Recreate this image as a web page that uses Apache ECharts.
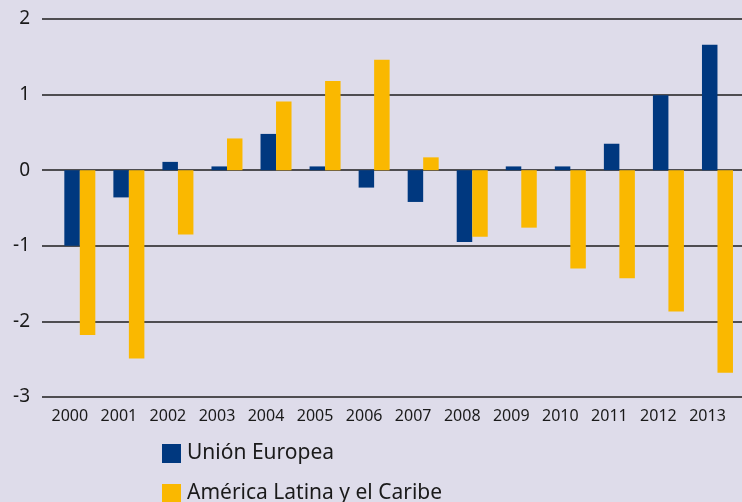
<!DOCTYPE html>
<html>
<head>
    <meta charset="utf-8">
    <title>Unión Europea / América Latina y el Caribe</title>
    <script src="https://cdn.jsdelivr.net/npm/echarts@6/dist/echarts.min.js"></script>
    <style>
        html, body { margin: 0; padding: 0; background: #dedcea; }
    </style>
</head>
<body>
    <div id="main" style="width: 742px;height:502px;"></div>
    <script>
        var years = ['2000', '2001', '2002', '2003', '2004', '2005', '2006', '2007', '2008', '2009', '2010', '2011', '2012', '2013'];
        var ue = [-1.0, -0.36, 0.11, 0.05, 0.48, 0.05, -0.23, -0.42, -0.95, 0.05, 0.05, 0.35, 0.99, 1.66];
        var alc = [-2.18, -2.49, -0.85, 0.42, 0.91, 1.18, 1.46, 0.17, -0.88, -0.76, -1.30, -1.43, -1.87, -2.68];
        var yTicks = [-3, -2, -1, 0, 1, 2];

        var myChart = echarts.init(document.getElementById('main'));

        var font = '"Noto Sans", sans-serif';

        // grid 0: sólo las líneas horizontales; grid 1: las barras
        var option = {
            backgroundColor: '#dedcea',
            animation: false,
            grid: [
                { left: 42, right: 0, top: 19, height: 378 },
                { left: 55.3, width: 691.6, top: 19, height: 378 }
            ],
            legend: {
                orient: 'vertical',
                left: 162,
                top: 443,
                height: 70,
                padding: 0,
                itemWidth: 19,
                itemHeight: 19,
                itemGap: 19,
                icon: 'rect',
                textStyle: { fontFamily: font, fontSize: 21, color: '#1a1a1a', padding: [0, 0, 0, 1] },
                data: ['Unión Europea', 'América Latina y el Caribe']
            },
            xAxis: [
                { gridIndex: 0, type: 'value', min: 0, max: 1, show: false },
                {
                    gridIndex: 1,
                    type: 'category',
                    data: years,
                    axisLine: { show: false },
                    axisTick: { show: false },
                    axisLabel: {
                        interval: 0,
                        margin: 11,
                        padding: [0, 20, 0, 0],
                        fontFamily: font,
                        fontSize: 16,
                        color: '#1a1a1a'
                    }
                }
            ],
            yAxis: [
                {
                    gridIndex: 0,
                    type: 'value',
                    min: yTicks[0],
                    max: yTicks[yTicks.length - 1],
                    interval: 1,
                    axisLine: { show: false },
                    axisTick: { show: false },
                    splitLine: { lineStyle: { color: '#1e1e1e', width: 1.5 } },
                    axisLabel: {
                        margin: 12,
                        fontFamily: font,
                        fontSize: 19,
                        color: '#1a1a1a'
                    }
                },
                {
                    gridIndex: 1,
                    type: 'value',
                    min: yTicks[0],
                    max: yTicks[yTicks.length - 1],
                    interval: 1,
                    show: false,
                    splitLine: { show: false }
                }
            ],
            series: [
                {
                    name: 'Unión Europea',
                    type: 'bar',
                    xAxisIndex: 1,
                    yAxisIndex: 1,
                    data: ue,
                    barWidth: 15.5,
                    barGap: '0%',
                    itemStyle: { color: '#00387f' }
                },
                {
                    name: 'América Latina y el Caribe',
                    type: 'bar',
                    xAxisIndex: 1,
                    yAxisIndex: 1,
                    data: alc,
                    barWidth: 15.5,
                    barGap: '0%',
                    itemStyle: { color: '#fab800' }
                }
            ]
        };

        myChart.setOption(option);
    </script>
</body>
</html>
